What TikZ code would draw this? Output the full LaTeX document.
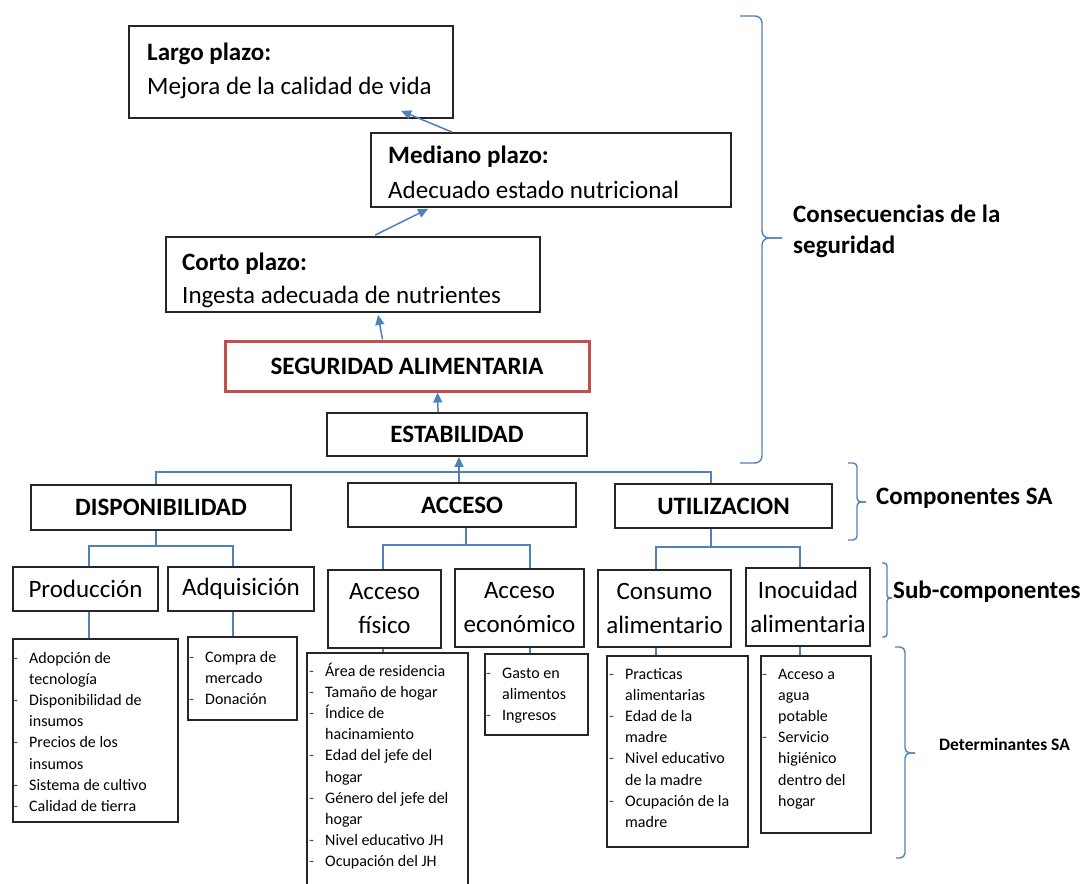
\documentclass[tikz,border=0pt]{standalone}
\usepackage{fontspec}
\setmainfont{Carlito}
\usetikzlibrary{arrows.meta}
\definecolor{lnblue}{RGB}{79,129,189}
\definecolor{sared}{RGB}{192,80,77}
\newcommand\dsh{\leavevmode\llap{\makebox[16pt][l]{\color{black!70}-}}}
\begin{document}
\begin{tikzpicture}[x=1pt,y=-1pt,
  bx/.style={draw=black!85, line width=1.8pt, inner sep=0pt},
  big/.style={font=\fontsize{25}{34}\selectfont},
  bigb/.style={font=\fontsize{25}{34}\selectfont\bfseries},
  txt/.style={anchor=base west, inner sep=0pt},
  ln/.style={draw=lnblue, line width=1.5pt},
  arr/.style={ln, -{Triangle[length=10pt,width=9pt]}},
  brace/.style={draw=lnblue, line width=1.4pt},
  det/.style={txt, font=\fontsize{16}{21.2}\selectfont}]
\useasboundingbox (0,0) rectangle (1091,883);
\fill[white] (0,0) rectangle (1091,883);
\clip (0,0) rectangle (1091,883);

% ---------- consequences ----------
\node[txt, bigb] (largo-t1) at (147,60) {Largo plazo:};
\node[txt, big] (largo-t2) at (147,94) {Mejora de la calidad de vida};
\node[bx, minimum width=324pt, minimum height=92pt] (largo) at (291,72) {};

\node[txt, bigb] (med-t1) at (388,163) {Mediano plazo:};
\node[txt, big] (med-t2) at (388,198) {Adecuado estado nutricional};
\node[bx, minimum width=360pt, minimum height=74pt] (mediano) at (551,170) {};

\node[txt, bigb] (corto-t1) at (182,270) {Corto plazo:};
\node[txt, big] (corto-t2) at (182,303) {Ingesta adecuada de nutrientes};
\node[bx, minimum width=374pt, minimum height=75pt] (corto) at (353,274.5) {};

\node[bx, draw=sared, line width=3pt, minimum width=364pt, minimum height=50pt, bigb] (seg) at (407,366) {SEGURIDAD ALIMENTARIA};
\node[bx, minimum width=260pt, minimum height=43pt, bigb] (estab) at (457,434.5) {ESTABILIDAD};

% ---------- components ----------
\node[bx, minimum width=260pt, minimum height=45pt, bigb] (disp) at (161,507.5) {DISPONIBILIDAD};
\node[bx, minimum width=228pt, minimum height=44pt, bigb] (acceso) at (462,505) {ACCESO};
\node[bx, minimum width=217pt, minimum height=44pt, bigb] (util) at (723.5,506) {UTILIZACION};

% ---------- sub-components ----------
\node[bx, minimum width=145pt, minimum height=44pt, big] (prod) at (85.5,589) {Producción};
\node[bx, minimum width=146pt, minimum height=44pt, big] (adq) at (241,589) {Adquisición};
\node[bx, minimum width=113pt, minimum height=78pt, big, align=center] (afis) at (384.5,609) {Acceso\\físico};
\node[bx, minimum width=129pt, minimum height=78pt, big, align=center] (aeco) at (519.5,608) {Acceso\\económico};
\node[bx, minimum width=133pt, minimum height=77pt, big, align=center] (cons) at (664.5,608.5) {Consumo\\alimentario};
\node[bx, minimum width=124pt, minimum height=78pt, big, align=center] (inoc) at (808,607) {Inocuidad\\alimentaria};

% ---------- determinants ----------
\node[bx, minimum width=165pt, minimum height=183pt] (dprod) at (95.5,730.5) {};
\node[bx, minimum width=109pt, minimum height=83pt] (dadq) at (242.5,678.5) {};
\node[bx, minimum width=161pt, minimum height=247pt] (dafis) at (387.5,776.5) {};
\node[bx, minimum width=103pt, minimum height=81pt] (daeco) at (536.5,694.5) {};
\node[bx, minimum width=141pt, minimum height=191pt] (dcons) at (677.5,751.5) {};
\node[bx, minimum width=110pt, minimum height=177pt] (dinoc) at (816,744.5) {};

\node[det] (dprod-t) at (29,663) {\parbox[t]{148pt}{\fontsize{16}{21.2}\selectfont
  \dsh Adopción de\\tecnología\\\dsh Disponibilidad de\\insumos\\\dsh Precios de los\\insumos\\\dsh Sistema de cultivo\\\dsh Calidad de tierra}};
\node[det] (dadq-t) at (205,662) {\parbox[t]{90pt}{\fontsize{16}{21.2}\selectfont
  \dsh Compra de\\mercado\\\dsh Donación}};
\node[det] (dafis-t) at (325,676) {\parbox[t]{140pt}{\fontsize{16}{21.2}\selectfont
  \dsh Área de residencia\\\dsh Tamaño de hogar\\\dsh Índice de\\hacinamiento\\\dsh Edad del jefe del\\hogar\\\dsh Género del jefe del\\hogar\\\dsh Nivel educativo JH\\\dsh Ocupación del JH}};
\node[det] (daeco-t) at (502,678) {\parbox[t]{85pt}{\fontsize{16}{21.2}\selectfont
  \dsh Gasto en\\alimentos\\\dsh Ingresos}};
\node[det] (dcons-t) at (625,679) {\parbox[t]{120pt}{\fontsize{16}{21.2}\selectfont
  \dsh Practicas\\alimentarias\\\dsh Edad de la\\madre\\\dsh Nivel educativo\\de la madre\\\dsh Ocupación de la\\madre}};
\node[det] (dinoc-t) at (778,679) {\parbox[t]{90pt}{\fontsize{16}{21.2}\selectfont
  \dsh Acceso a\\agua\\potable\\\dsh Servicio\\higiénico\\dentro del\\hogar}};

% ---------- connectors ----------
\draw[arr] ([xshift=82pt]mediano.north west) -- ([xshift=273pt,yshift=8pt]largo.south west);
\draw[arr] ([xshift=210pt,yshift=1pt]corto.north west) -- ([xshift=58pt,yshift=-1pt]mediano.south west);
\draw[arr] ([xshift=159pt]seg.north west) -- ([xshift=213pt,yshift=-2pt]corto.south west);
\draw[arr] ([xshift=112pt]estab.north west) -- ([xshift=214pt]seg.south west);

\coordinate (xd) at (156,0);
\coordinate (xu) at (711,0);
\coordinate (tj) at (459,472);
\draw[ln] (disp.north -| xd) |- (tj) -| (util.north -| xu);
\draw[arr] (acceso.north -| tj) -- (estab.south -| tj);

\coordinate (xp) at (89,0);
\coordinate (xa) at (233,0);
\coordinate (dj) at (156,546);
\draw[ln] (disp.south -| dj) -- (dj);
\draw[ln] (prod.north -| xp) |- (dj) -| (adq.north -| xa);
\draw[ln] (prod.south -| xp) -- (dprod.north -| xp);
\draw[ln] (adq.south -| xa) -- (dadq.north -| xa);

\coordinate (xf) at (383,0);
\coordinate (xe) at (530,0);
\coordinate (aj) at (466,545);
\draw[ln] (acceso.south -| aj) -- (aj);
\draw[ln] (afis.north -| xf) |- (aj) -| (aeco.north -| xe);
\draw[ln] (afis.south -| xf) -- (dafis.north -| xf);
\draw[ln] (aeco.south -| xe) -- (daeco.north -| xe);

\coordinate (xc) at (656,0);
\coordinate (xi) at (800,0);
\coordinate (uj) at (711,547);
\draw[ln] (util.south -| uj) -- (uj);
\draw[ln] (cons.north -| xc) |- (uj) -| (inoc.north -| xi);
\draw[ln] (cons.south -| xc) -- (dcons.north -| xc);
\draw[ln] (inoc.south -| xi) -- (dinoc.north -| xi);

% ---------- braces and their labels ----------
\draw[brace, rounded corners=7pt] (740,16) -- (762,16) -- (762,238) -- (782,238);
\draw[brace, rounded corners=7pt] (782,238) -- (762,238) -- (762,463) -- (740,463);
\node[txt] (consec) at (793,222) {\parbox[t]{260pt}{\fontsize{25}{31}\selectfont\bfseries Consecuencias de la\\seguridad}};

\draw[brace, rounded corners=4pt] (848,463) -- (857,463) -- (857,502) -- (866,502);
\draw[brace, rounded corners=4pt] (866,502) -- (857,502) -- (857,540) -- (848,540);
\node[txt, bigb] (comp) at (876,504) {Componentes SA};

\draw[brace, rounded corners=3pt] (882,563) -- (887,563) -- (887,598) -- (892,598);
\draw[brace, rounded corners=3pt] (892,598) -- (887,598) -- (887,637) -- (882,637);
\node[txt, bigb] (subc) at (893,598) {Sub-componentes};

\draw[brace, rounded corners=5pt] (895,647) -- (905,647) -- (905,753) -- (915,753);
\draw[brace, rounded corners=5pt] (915,753) -- (905,753) -- (905,858) -- (896,858);
\node[txt, font=\fontsize{17.5}{20}\selectfont\bfseries] (detsa) at (939,750) {Determinantes SA};
\end{tikzpicture}
\end{document}
